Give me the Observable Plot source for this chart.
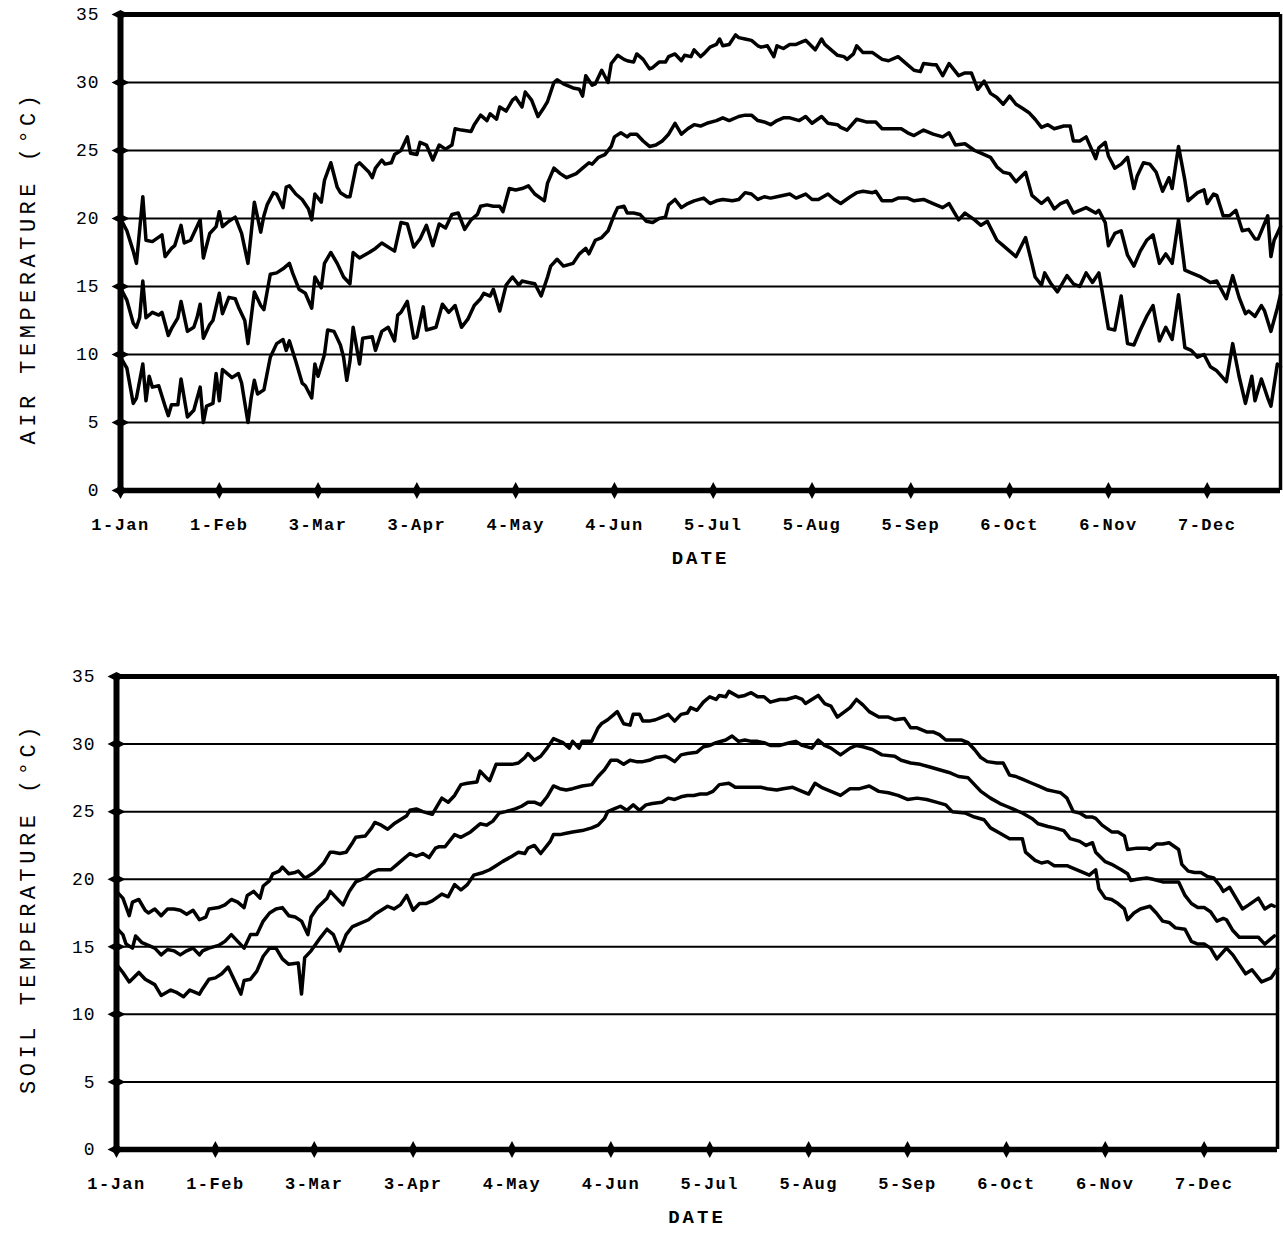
<!DOCTYPE html>
<html><head><meta charset="utf-8">
<script src="https://cdn.jsdelivr.net/npm/d3@7"></script>
<script src="https://cdn.jsdelivr.net/npm/@observablehq/plot@0.6"></script>
<style>
html,body{margin:0;padding:0;background:#fff;}
#chart{width:1283px;height:1233px;overflow:hidden;}
#chart svg{display:block;}
g[aria-label="x-axis tick label"] text{letter-spacing:1.5px;font-weight:bold;}
g[aria-label="y-axis tick label"] text{letter-spacing:1px;}
</style></head><body><div id="chart"></div>
<script>
// ---- axis data ----
const tickDays = [0,31,62,93,124,155,186,217,248,279,310,341];
const tickLabels = ["1-Jan","1-Feb","3-Mar","3-Apr","4-May","4-Jun","5-Jul","5-Aug","5-Sep","6-Oct","6-Nov","7-Dec"];
const yTicks = [0,5,10,15,20,25,30,35];
const gridValues = [5,10,15,20,25,30];

// ---- AIR TEMPERATURE: daily maximum ----
const airMaxDays = [0,2,4,5,7,8,10,13,14,16,17,19,20,22,25,26,28,30,31,32,34,36,38,40,41,42,44,45,46,48,49,51,52,53,55,57,59,60,61,63,64,66,68,69,71,72,74,75,78,79,80,82,83,85,86,88,90,91,93,94,96,98,100,102,104,105,107,110,111,113,115,116,118,119,121,123,124,126,127,129,131,133,134,136,137,139,142,144,145,146,148,149,151,153,154,156,158,159,161,162,164,166,167,169,171,172,174,176,177,179,180,182,183,185,187,188,189,191,193,194,196,198,200,201,203,205,206,208,210,212,214,215,218,220,221,223,225,227,228,230,231,233,236,239,241,244,246,249,251,252,255,256,258,260,263,265,267,269,271,273,275,277,279,281,283,285,287,289,291,293,296,298,299,301,303,306,307,309,310,312,314,316,318,319,321,323,325,327,329,330,332,334,335,338,340,341,343,344,346,348,350,352,354,356,357,360,361,362,364];
const airMaxValues = [20.0,19.1,17.6,16.7,21.6,18.4,18.3,18.8,17.2,17.8,18.0,19.5,18.2,18.4,19.9,17.1,18.9,19.4,20.5,19.4,19.8,20.1,18.9,16.7,18.9,21.2,19.0,20.2,21.0,21.9,21.8,20.8,22.3,22.4,21.8,21.4,20.7,19.9,21.8,21.2,22.8,24.1,22.3,21.9,21.6,21.6,23.9,24.1,23.4,23.0,23.7,24.3,24.0,24.1,24.7,25.0,26.0,24.8,24.7,25.6,25.4,24.3,25.4,25.1,25.4,26.6,26.5,26.4,26.9,27.6,27.2,27.7,27.3,28.2,27.9,28.7,28.9,28.2,29.3,28.7,27.5,28.2,28.6,30.0,30.2,29.9,29.6,29.5,29.0,30.5,29.8,29.9,30.9,30.0,31.4,32.0,31.7,31.6,31.5,32.1,31.7,31.0,31.1,31.5,31.5,31.9,32.1,31.6,32.0,31.9,32.4,31.9,32.1,32.6,32.8,33.2,32.7,32.8,33.5,33.3,33.2,33.1,32.7,32.6,32.7,31.9,32.7,32.5,32.8,32.8,33.0,33.1,32.4,33.2,32.8,32.4,32.0,31.9,31.7,32.1,32.7,32.2,32.2,31.7,31.6,31.9,31.5,30.9,30.8,31.4,31.3,31.3,30.5,31.4,30.5,30.7,30.7,29.5,30.1,29.2,28.9,28.4,29.0,28.4,28.1,27.8,27.3,26.7,26.9,26.6,26.8,26.8,25.7,25.7,26.0,24.4,25.2,25.6,24.6,23.7,24.0,24.5,22.2,23.1,24.1,24.0,23.4,22.0,23.0,22.2,25.3,22.8,21.3,21.9,22.1,21.1,21.8,21.7,20.2,20.2,20.6,19.1,19.2,18.5,18.5,20.2,17.2,18.4,19.4];

// ---- AIR TEMPERATURE: daily mean ----
const airMeanDays = [0,2,4,5,6,7,8,10,12,13,15,16,18,19,21,23,24,25,26,28,29,31,32,34,36,37,39,40,41,42,44,45,47,49,51,53,54,56,58,60,61,63,64,66,68,70,72,73,75,78,80,82,86,88,90,92,94,96,98,100,102,104,106,108,110,112,113,115,117,119,120,122,124,126,128,130,133,134,136,138,140,143,145,147,148,150,152,154,155,157,159,160,162,164,166,168,170,172,174,176,178,180,182,184,187,189,191,194,196,198,200,202,204,206,208,210,213,215,217,220,222,225,226,228,231,234,237,239,242,245,247,249,252,255,258,260,262,265,268,270,273,275,277,279,281,284,286,289,291,293,295,297,299,301,303,306,307,309,310,312,314,316,318,320,322,324,326,328,330,332,334,336,339,342,344,347,349,351,353,354,356,358,359,361,363,364];
const airMeanValues = [14.9,14.0,12.3,12.0,12.7,15.4,12.7,13.1,12.9,13.1,11.4,11.9,12.7,13.9,11.7,12.0,12.7,13.7,11.2,12.2,12.5,14.5,13.0,14.2,14.1,13.5,12.5,10.8,12.7,14.6,13.6,13.3,15.9,16.0,16.3,16.7,16.0,14.8,14.5,13.4,15.7,14.9,16.7,17.5,16.7,15.7,15.2,17.5,17.1,17.5,17.8,18.2,17.6,19.7,19.6,17.9,18.5,19.5,18.0,19.6,19.3,20.3,20.4,19.2,19.9,20.3,20.9,21.0,20.9,20.9,20.5,22.2,22.1,22.2,22.4,21.8,21.3,22.6,23.7,23.3,23.0,23.3,23.7,24.1,24.0,24.5,24.7,25.3,26.0,26.3,26.0,26.2,26.2,25.7,25.3,25.4,25.7,26.2,27.0,26.2,26.6,26.9,26.8,27.0,27.2,27.4,27.2,27.5,27.6,27.6,27.2,27.1,26.9,27.2,27.4,27.4,27.2,27.5,27.0,27.5,27.0,26.9,26.7,26.5,27.3,27.1,27.1,26.6,26.6,26.6,26.3,26.1,26.5,26.2,26.0,26.3,25.4,25.5,25.0,24.8,24.5,23.8,23.4,23.3,22.7,23.4,21.7,21.1,21.5,20.7,21.1,21.3,20.4,20.6,20.8,20.4,20.6,19.7,18.0,18.9,19.1,17.3,16.5,17.6,18.4,18.8,16.7,17.4,16.7,19.9,16.2,16.0,15.7,15.3,15.4,14.1,15.8,14.2,13.0,13.2,12.8,13.6,13.2,11.7,13.4,14.4];

// ---- AIR TEMPERATURE: daily minimum ----
const airMinDays = [0,2,4,5,7,8,9,10,12,14,15,16,18,19,21,23,25,26,27,29,30,31,32,35,37,38,40,41,42,43,45,47,49,51,52,53,55,57,58,60,61,62,64,65,67,69,70,71,72,73,75,76,79,80,82,84,86,87,88,90,92,93,95,96,99,101,103,105,107,109,111,113,114,116,117,119,121,123,125,126,128,130,132,134,135,137,139,142,144,146,147,149,151,153,155,156,158,159,161,163,165,167,169,171,172,174,176,178,180,183,185,187,189,192,194,196,198,200,202,204,206,210,212,215,217,219,222,224,226,229,231,233,236,237,239,242,244,247,249,252,255,258,260,263,265,268,270,272,275,277,279,281,284,286,287,289,290,292,294,297,299,301,303,305,307,308,310,312,314,316,318,320,322,324,326,328,330,332,334,336,338,340,342,344,347,349,351,353,355,356,358,360,361,363,364];
const airMinValues = [9.8,9.0,6.4,6.8,9.3,6.6,8.4,7.6,7.7,6.2,5.5,6.3,6.3,8.2,5.4,5.9,7.6,5.0,6.2,6.4,8.6,6.6,8.9,8.3,8.6,7.9,5.0,6.8,8.1,7.1,7.4,9.8,10.8,11.1,10.3,11.0,9.5,7.9,7.7,6.8,9.3,8.4,10.0,11.8,11.7,10.7,9.8,8.1,9.5,12.0,9.3,11.2,11.3,10.3,11.7,12.0,11.0,12.9,13.1,13.9,11.2,11.3,13.5,11.8,12.0,13.7,13.1,13.6,12.0,12.6,13.6,14.1,14.5,14.3,14.8,13.2,15.1,15.7,15.1,15.4,15.3,15.2,14.3,15.7,16.5,17.0,16.5,16.7,17.4,17.8,17.4,18.4,18.6,19.1,20.3,20.8,20.9,20.4,20.4,20.3,19.8,19.7,20.0,20.1,21.0,21.4,20.8,21.1,21.3,21.5,21.1,21.3,21.4,21.3,21.4,21.9,21.8,21.4,21.6,21.5,21.6,21.8,21.5,21.8,21.4,21.4,21.8,21.4,21.1,21.6,21.9,22.0,21.9,22.0,21.3,21.3,21.5,21.5,21.3,21.4,21.1,20.8,21.1,19.9,20.4,19.9,19.5,19.8,18.4,18.0,17.6,17.2,18.6,16.7,15.7,15.1,16.0,15.2,14.6,15.8,15.2,15.0,16.0,15.3,16.0,14.7,11.9,11.8,14.3,10.8,10.7,11.8,12.8,13.6,11.0,12.0,11.1,14.4,10.5,10.3,9.8,10.0,9.1,8.8,8.0,10.8,8.4,6.4,8.4,6.6,8.2,6.8,6.2,9.3,9.1];

// ---- SOIL TEMPERATURE: daily maximum ----
const soilMaxDays = [0,2,4,5,7,9,10,12,14,16,18,20,22,24,26,28,29,32,34,36,38,40,41,43,45,46,48,49,51,52,54,56,57,59,60,62,63,65,67,68,70,72,74,75,78,80,81,83,85,87,89,91,92,94,96,99,102,104,106,108,110,113,114,116,117,119,121,124,126,128,129,131,133,135,137,139,140,142,143,145,146,149,151,152,154,156,157,159,161,162,164,165,167,169,171,173,175,177,179,180,182,184,186,188,189,191,192,195,197,199,201,203,205,208,210,213,215,216,220,222,224,226,230,232,234,236,239,242,244,247,249,251,254,256,258,260,262,265,267,269,271,273,276,278,280,282,284,287,289,292,294,296,298,300,302,304,306,307,309,312,314,316,317,320,323,324,326,328,330,333,334,336,338,340,342,344,346,347,349,351,353,355,358,360,362,363];
const soilMaxValues = [19.1,18.6,17.3,18.3,18.5,17.7,17.5,17.8,17.3,17.8,17.8,17.7,17.4,17.7,17.0,17.2,17.8,17.9,18.1,18.5,18.3,17.9,18.8,19.1,18.6,19.5,19.9,20.4,20.6,20.9,20.4,20.5,20.6,20.1,20.2,20.5,20.7,21.2,22.0,22.0,21.9,22.0,22.7,23.1,23.2,23.8,24.2,24.0,23.7,24.1,24.4,24.7,25.1,25.2,25.0,24.8,26.0,25.7,26.2,27.0,27.1,27.2,28.0,27.5,27.3,28.5,28.5,28.5,28.6,29.0,29.3,28.8,29.1,29.7,30.4,30.2,30.1,29.7,30.2,29.7,30.2,30.2,31.2,31.5,31.8,32.2,32.4,31.5,31.4,32.2,32.2,31.7,31.7,31.8,32.0,32.2,31.7,32.2,32.3,32.7,32.5,33.1,33.5,33.3,33.6,33.5,33.9,33.5,33.6,33.8,33.5,33.5,33.1,33.3,33.3,33.5,33.3,33.0,33.6,33.0,32.8,32.0,32.7,33.3,32.9,32.4,32.0,32.0,31.8,31.9,31.2,31.2,30.9,30.9,30.7,30.3,30.3,30.3,30.1,29.6,29.0,28.7,28.6,28.6,27.7,27.6,27.4,27.1,26.9,26.6,26.5,26.4,26.0,25.0,24.9,24.6,24.6,24.5,24.0,23.5,23.5,23.2,22.2,22.3,22.3,22.2,22.6,22.6,22.7,22.2,21.1,20.6,20.5,20.5,20.2,20.1,19.5,19.1,19.4,18.6,17.8,18.1,18.6,17.8,18.1,18.0];

// ---- SOIL TEMPERATURE: daily mean ----
const soilMeanDays = [0,2,3,5,6,8,10,12,14,16,18,20,22,24,26,27,29,32,34,36,38,40,42,44,46,48,50,52,54,56,58,60,61,63,66,67,69,71,73,75,78,80,82,84,86,88,90,92,94,96,98,100,101,103,106,108,111,114,116,118,120,122,125,127,129,131,133,135,137,139,141,143,146,149,151,153,155,157,159,161,163,165,167,169,172,173,175,177,179,182,184,186,188,191,193,195,197,199,201,203,205,208,211,213,215,218,220,222,224,227,230,232,234,237,240,244,246,249,252,255,258,261,264,267,269,271,274,277,279,281,284,287,289,292,294,297,299,302,304,306,307,310,312,315,317,318,320,323,325,328,330,333,335,337,339,341,343,345,347,348,350,352,354,356,358,360,362,363];
const soilMeanValues = [16.4,15.9,15.2,14.9,15.8,15.3,15.1,14.9,14.4,14.8,14.7,14.4,14.7,14.9,14.4,14.7,14.9,15.1,15.4,15.9,15.4,14.9,15.9,15.9,16.9,17.5,17.8,17.9,17.3,17.2,16.9,15.9,17.2,17.9,18.6,19.1,18.6,18.1,19.1,19.8,20.1,20.5,20.7,20.7,20.7,21.1,21.5,21.9,21.7,21.9,21.6,22.3,22.4,22.4,23.3,23.1,23.5,24.1,24.0,24.3,24.9,25.0,25.2,25.4,25.7,25.7,25.5,26.1,26.9,26.7,26.6,26.7,26.9,27.0,27.6,28.1,28.8,28.8,28.5,28.8,28.7,28.7,28.8,29.0,29.1,29.0,28.7,29.2,29.3,29.4,29.8,29.9,30.1,30.3,30.6,30.2,30.3,30.2,30.2,30.1,29.9,29.9,30.1,30.2,29.9,29.7,30.3,29.9,29.7,29.2,29.7,29.9,29.8,29.6,29.2,29.1,28.8,28.6,28.5,28.3,28.1,27.9,27.6,27.5,27.0,26.5,26.0,25.6,25.4,25.2,24.9,24.5,24.1,23.9,23.8,23.6,23.0,22.8,22.5,22.7,22.0,21.3,21.1,20.7,20.4,19.9,20.0,20.1,20.0,19.8,19.8,19.8,18.8,18.2,17.9,17.9,17.6,16.9,17.1,17.0,16.2,15.7,15.7,15.7,15.7,15.2,15.6,15.8];

// ---- SOIL TEMPERATURE: daily minimum ----
const soilMinDays = [0,2,4,7,9,12,14,17,19,21,23,26,27,29,31,33,35,37,39,40,42,44,46,48,50,52,54,57,58,59,61,64,66,68,70,72,74,76,79,81,83,85,87,89,91,93,95,97,99,102,104,106,108,110,112,115,117,119,121,124,126,128,129,131,133,136,137,139,141,143,146,149,151,153,154,156,158,160,162,164,166,168,171,173,175,177,179,181,183,185,187,189,192,194,197,200,202,204,207,209,212,214,217,219,221,224,227,230,233,236,239,242,245,248,251,254,257,260,262,266,269,272,274,277,280,282,284,285,288,290,292,294,296,298,300,303,305,307,308,310,312,314,316,317,319,321,324,326,328,330,332,335,337,339,341,343,345,348,350,352,354,356,359,362,364];
const soilMinValues = [13.7,13.1,12.4,13.1,12.6,12.2,11.4,11.8,11.6,11.3,11.8,11.5,11.9,12.6,12.7,13.0,13.5,12.5,11.5,12.5,12.6,13.2,14.3,14.9,14.9,14.1,13.7,13.8,11.5,14.2,14.7,15.7,16.3,15.9,14.7,15.9,16.5,16.7,17.0,17.4,17.7,18.0,17.8,18.1,18.8,17.7,18.2,18.2,18.4,18.9,18.7,19.6,19.2,19.6,20.3,20.5,20.7,21.0,21.3,21.7,22.0,21.9,22.3,22.5,21.9,22.8,23.3,23.3,23.4,23.5,23.6,23.8,24.0,24.5,25.0,25.2,25.4,25.1,25.5,25.1,25.5,25.6,25.7,26.0,25.9,26.1,26.2,26.2,26.3,26.3,26.5,27.0,27.1,26.8,26.8,26.8,26.8,26.7,26.6,26.7,26.8,26.6,26.3,27.1,26.8,26.5,26.2,26.7,26.7,26.9,26.5,26.4,26.2,25.9,26.0,25.9,25.7,25.5,25.0,24.9,24.6,24.4,23.8,23.4,23.0,23.0,23.0,22.0,21.4,21.2,21.3,21.0,21.0,21.0,20.8,20.5,20.3,20.7,19.3,18.6,18.5,18.2,17.8,17.0,17.5,17.8,18.0,17.5,16.9,16.8,16.4,16.3,15.4,15.2,15.2,14.9,14.1,14.9,14.4,13.7,13.0,13.3,12.4,12.7,13.4];

// ---- helpers ----
function rows(days, vals, s) { return days.map((d, i) => ({day: d, t: vals[i], s})); }
const wideDiamond = {draw(c) { c.moveTo(-9, 0); c.lineTo(0, -4.5); c.lineTo(9, 0); c.lineTo(0, 4.5); c.closePath(); }};
const tallDiamond = {draw(c) { c.moveTo(-4.5, 0); c.lineTo(0, -8.5); c.lineTo(4.5, 0); c.lineTo(0, 8.5); c.closePath(); }};
const FONT = "'Liberation Mono', 'Courier New', monospace";

function panel(cfg) {
  const svg = Plot.plot({
    width: 1283, height: cfg.height,
    marginLeft: cfg.ml, marginRight: cfg.mr, marginTop: cfg.mt, marginBottom: cfg.mb,
    x: {domain: [0, 364], axis: null},
    y: {domain: [0, 35], axis: null},
    style: {background: "white", fontFamily: FONT, color: "black"},
    marks: [
      Plot.ruleY(gridValues, {stroke: "#000", strokeWidth: 2}),
      Plot.line(cfg.data, {x: "day", y: "t", z: "s", stroke: "#000", strokeWidth: 3.5, strokeLinejoin: "round", strokeLinecap: "round"}),
      Plot.ruleY([35], {stroke: "#000", strokeWidth: 5}),
      Plot.ruleY([0], {stroke: "#000", strokeWidth: 5.5}),
      Plot.ruleX([0], {stroke: "#000", strokeWidth: 6}),
      Plot.ruleX([364], {stroke: "#000", strokeWidth: 3.5}),
      Plot.dot(yTicks, {x: () => 0, y: d => d, symbol: wideDiamond, fill: "#000", stroke: "none"}),
      Plot.dot(tickDays, {x: d => d, y: () => 0, symbol: tallDiamond, fill: "#000", stroke: "none"}),
      Plot.axisY({ticks: yTicks, tickSize: 0, tickPadding: 21, fontSize: 18, tickFormat: d => String(d), label: null}),
      Plot.axisX({ticks: tickDays, tickSize: 0, tickPadding: 27, fontSize: 17, tickFormat: d => tickLabels[tickDays.indexOf(d)], label: null}),
      Plot.text([cfg.title], {frameAnchor: "left", textAnchor: "middle", rotate: -90, dx: cfg.titleDx, dy: cfg.titleDy, fontSize: 22, fill: "#000"}),
      Plot.text(["DATE"], {frameAnchor: "bottom", textAnchor: "middle", dy: 73, fontSize: 19, fontWeight: "bold", fill: "#000"})
    ]
  });
  // letter-spacing for the titles (typewriter look of the original)
  d3.select(svg).selectAll("text")
    .filter(function() { return this.textContent === cfg.title; })
    .style("letter-spacing", "4.5px");
  d3.select(svg).selectAll("text")
    .filter(function() { return this.textContent === "DATE"; })
    .style("letter-spacing", "3px");
  return svg;
}

const airData = [
  ...rows(airMaxDays, airMaxValues, "max"),
  ...rows(airMeanDays, airMeanValues, "mean"),
  ...rows(airMinDays, airMinValues, "min")
];
const soilData = [
  ...rows(soilMaxDays, soilMaxValues, "max"),
  ...rows(soilMeanDays, soilMeanValues, "mean"),
  ...rows(soilMinDays, soilMinValues, "min")
];

const chart = document.getElementById("chart");
chart.append(panel({height: 620, ml: 120, mr: 3, mt: 14, mb: 130, data: airData, title: "AIR TEMPERATURE (°C)", titleDx: -93, titleDy: 15}));
chart.append(panel({height: 613, ml: 116, mr: 6, mt: 56, mb: 84, data: soilData, title: "SOIL TEMPERATURE (°C)", titleDx: -89, titleDy: -5}));
</script></body></html>
